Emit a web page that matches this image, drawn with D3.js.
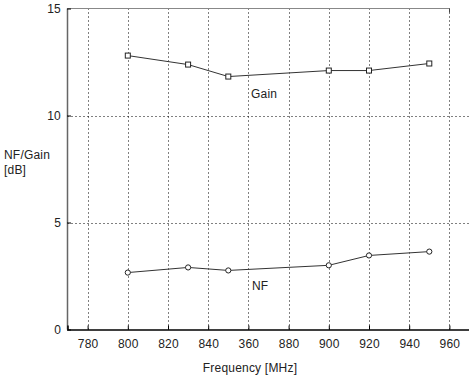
<!DOCTYPE html>
<html lang="en">
<head>
	<meta charset="UTF-8">
	<title>NF / Gain</title>
	<script src="https://cdn.jsdelivr.net/npm/d3@7"></script>
	<style>
		body { margin: 0; background: #fff; }
		text { font-family: "Liberation Sans", Arial, sans-serif; font-size: 12px; fill: #222; letter-spacing: 0.2px; }
		.grid line { stroke: #000; stroke-dasharray: 1,3; stroke-width: 1; }
		.line { fill: none; stroke: #333; stroke-width: 1; }
		.mark { fill: #fff; stroke: #222; stroke-width: 1; }
	</style>
</head>
<body>
<script type="text/javascript">

	var freqs = [800, 830, 850, 900, 920, 950];
	var gain = [12.8, 12.38, 11.82, 12.1, 12.1, 12.43];
	var nf = [2.66, 2.9, 2.76, 3.0, 3.46, 3.64];
	var xTicks = [780, 800, 820, 840, 860, 880, 900, 920, 940, 960];
	var xTickLabels = ['780', '800', '820', '840', '360', '880', '900', '920', '940', '960'];
	var yTicks = [0, 5, 10, 15];

	var margin = {top: 8, left: 67, bottom: 54, right: 0};
	var width = 469 - margin.left - margin.right,
		height = 383 - margin.top - margin.bottom;

	var svg = d3.select('body').append('svg')
		.attr('width', 469)
		.attr('height', 383)
		.append('g')
		.attr('transform', 'translate(' + margin.left + ',' + margin.top + ')');

	var x = d3.scaleLinear().domain([770, 970]).range([0.5, width + 0.5]);
	var y = d3.scaleLinear().domain([0, 15]).range([height + 0.5, 0.5]);

	// grid
	svg.append('g').attr('class', 'grid')
		.selectAll('line').data(xTicks).enter().append('line')
		.attr('x1', function (d) { return Math.round(x(d)) + 0.5; })
		.attr('x2', function (d) { return Math.round(x(d)) + 0.5; })
		.attr('y1', y(15)).attr('y2', y(0));
	svg.append('g').attr('class', 'grid')
		.selectAll('line').data([5, 10]).enter().append('line')
		.attr('x1', x(770)).attr('x2', x(970))
		.attr('y1', function (d) { return Math.round(y(d)) + 0.5; })
		.attr('y2', function (d) { return Math.round(y(d)) + 0.5; });

	// frame
	svg.append('line').attr('x1', x(770)).attr('x2', Math.round(x(960)) + 0.5).attr('y1', y(15)).attr('y2', y(15))
		.attr('stroke', '#888');
	svg.append('line').attr('x1', Math.round(x(960)) + 0.5).attr('x2', Math.round(x(960)) + 0.5)
		.attr('y1', y(15)).attr('y2', y(15) + 4).attr('stroke', '#444');
	svg.append('line').attr('x1', x(770)).attr('x2', x(770)).attr('y1', y(15)).attr('y2', y(0))
		.attr('stroke', '#666').attr('stroke-width', 1.5);

	var xAxis = svg.append('g')
		.attr('transform', 'translate(0,' + y(0) + ')')
		.call(d3.axisBottom(x).tickValues(xTicks).tickSize(-4).tickPadding(10)
			.tickFormat(function (d, i) { return xTickLabels[i]; }));
	xAxis.select('.domain').attr('stroke', '#000').attr('stroke-width', 1.5);
	xAxis.selectAll('text').style('font-size', '12px').attr('fill', '#222');

	var yAxis = svg.append('g')
		.call(d3.axisLeft(y).tickValues(yTicks).tickSize(-4).tickPadding(6));
	yAxis.select('.domain').remove();
	yAxis.selectAll('text').style('font-size', '12px').attr('fill', '#222');

	var line = d3.line()
		.x(function (d) { return x(d[0]); })
		.y(function (d) { return y(d[1]); });

	var gainData = d3.zip(freqs, gain);
	var nfData = d3.zip(freqs, nf);

	svg.append('path').datum(gainData).attr('class', 'line').attr('d', line);
	svg.append('path').datum(nfData).attr('class', 'line').attr('d', line);

	svg.selectAll('.sq').data(gainData).enter().append('rect')
		.attr('class', 'mark')
		.attr('x', function (d) { return x(d[0]) - 2.5; })
		.attr('y', function (d) { return y(d[1]) - 2.5; })
		.attr('width', 5).attr('height', 5);

	svg.selectAll('.ci').data(nfData).enter().append('circle')
		.attr('class', 'mark')
		.attr('cx', function (d) { return x(d[0]); })
		.attr('cy', function (d) { return y(d[1]); })
		.attr('r', 2.6);

	// labels
	svg.append('text').attr('x', 184).attr('y', 90).text('Gain');
	svg.append('text').attr('x', 185).attr('y', 282).text('NF');

	var root = d3.select('svg');
	root.append('text').attr('x', 4).attr('y', 159).text('NF/Gain');
	root.append('text').attr('x', 4).attr('y', 174).text('[dB]');
	root.append('text').attr('x', 250).attr('y', 372).attr('text-anchor', 'middle').text('Frequency [MHz]');

</script>
</body>
</html>
